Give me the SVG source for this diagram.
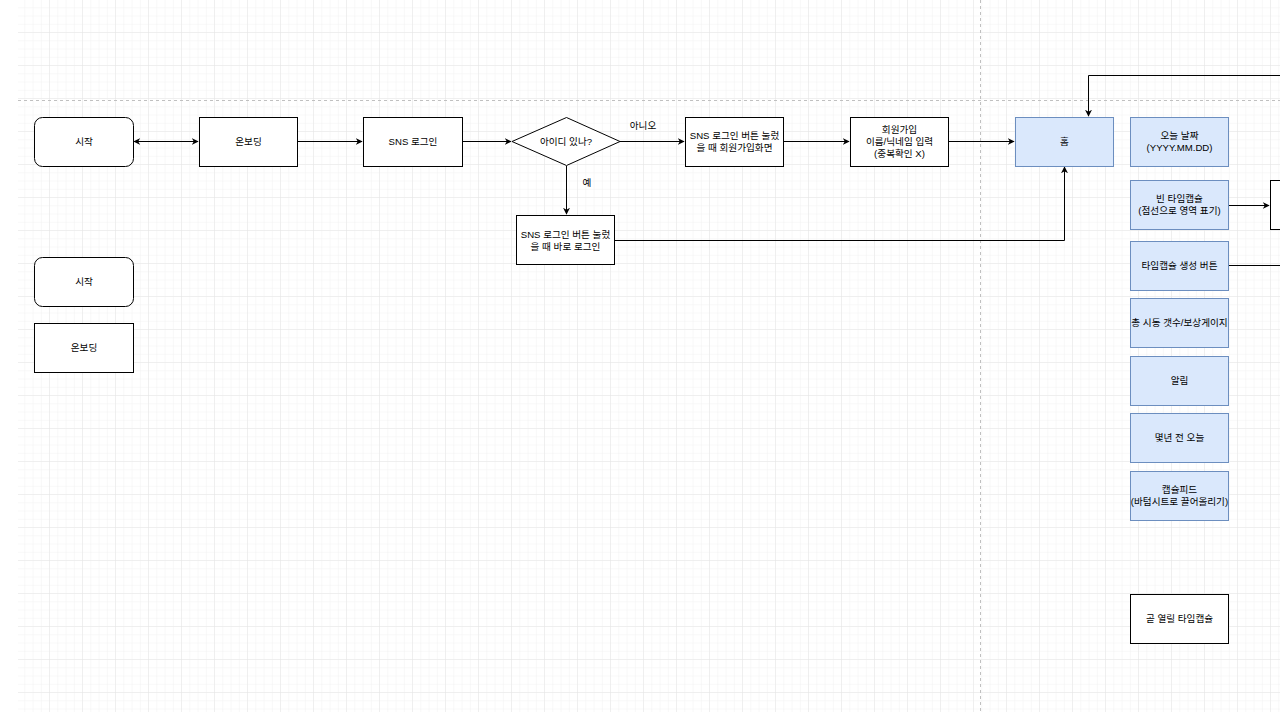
<svg xmlns="http://www.w3.org/2000/svg" width="1280" height="714" viewBox="0 0 1280 714">
<defs>
<pattern id="minor" x="17" y="0" width="8.25" height="8.25" patternUnits="userSpaceOnUse">
<path d="M8.25 0V8.25M0 8.25H8.25" fill="none" stroke="#f1f1f1" stroke-width="1"/>
</pattern>
<pattern id="major" x="17" y="0" width="33" height="33" patternUnits="userSpaceOnUse">
<path d="M33 0V33M0 33H33" fill="none" stroke="#e6e6e6" stroke-width="1"/>
</pattern>
<marker id="arr" viewBox="0 0 10 10" refX="9" refY="5" markerWidth="7" markerHeight="7" orient="auto-start-reverse" markerUnits="userSpaceOnUse">
<path d="M0 0L10 5L0 10L3 5Z" fill="#000"/>
</marker>
</defs>
<style>
.n{fill:#fff;stroke:#000;stroke-width:1}
.b{fill:#dae8fc;stroke:#6c8ebf;stroke-width:1}
.t{font-family:"Liberation Sans","Noto Sans CJK KR",sans-serif;font-size:9.6px;fill:#000;text-anchor:middle}
.c{fill:none;stroke:#000;stroke-width:1}
</style>
<rect width="1280" height="714" fill="#fff"/>
<rect x="18" y="0" width="1262" height="712" fill="url(#minor)"/>
<rect x="18" y="0" width="1262" height="712" fill="url(#major)"/>
<line x1="18" y1="100.5" x2="1280" y2="100.5" stroke="#c0c0c0" stroke-dasharray="3 3"/>
<line x1="980.5" y1="0" x2="980.5" y2="714" stroke="#c0c0c0" stroke-dasharray="3 3"/>

<g id="connectors">
<path class="c" d="M134 141.5H198" marker-start="url(#arr)" marker-end="url(#arr)"/>
<path class="c" d="M298 141.5H362" marker-end="url(#arr)"/>
<path class="c" d="M463 141.5H511" marker-end="url(#arr)"/>
<path class="c" d="M620 141.5H684" marker-end="url(#arr)"/>
<path class="c" d="M566.5 166V214" marker-end="url(#arr)"/>
<path class="c" d="M784 141.5H849" marker-end="url(#arr)"/>
<path class="c" d="M948 141.5H1014" marker-end="url(#arr)"/>
<path class="c" d="M615 240.5H1064.5V167" marker-end="url(#arr)"/>
<path class="c" d="M1280 75.5H1088.5V116" marker-end="url(#arr)"/>
<path class="c" d="M1229 205.5H1269" marker-end="url(#arr)"/>
<path class="c" d="M1229 265.5H1280"/>
<text class="t" x="643" y="129">아니오</text>
<text class="t" x="587" y="186">예</text>
</g>

<g id="start1"><rect class="n" x="34.5" y="117.5" width="99" height="49" rx="8"/><text class="t" x="84" y="145">시작</text></g>
<g id="onboard1"><rect class="n" x="199.5" y="117.5" width="98" height="49"/><text class="t" x="248.5" y="145">온보딩</text></g>
<g id="snslogin"><rect class="n" x="363.5" y="117.5" width="99" height="49"/><text class="t" x="413" y="145">SNS 로그인</text></g>
<g id="decision"><path class="n" d="M566.5 117.5L620 141.5L566.5 165.5L512 141.5Z"/><text class="t" x="566" y="145">아이디 있나?</text></g>
<g id="signupscreen"><rect class="n" x="685.5" y="117.5" width="98" height="49"/><text class="t" x="734.5" y="139">SNS 로그인 버튼 눌렀</text><text class="t" x="734.5" y="151">을 때 회원가입화면</text></g>
<g id="signup"><rect class="n" x="850.5" y="117.5" width="98" height="49"/><text class="t" x="899.5" y="133">회원가입</text><text class="t" x="899.5" y="145">이름/닉네임 입력</text><text class="t" x="899.5" y="157">(중복확인 X)</text></g>
<g id="home"><rect class="b" x="1015.5" y="117.5" width="98" height="49"/><text class="t" x="1064.5" y="145">홈</text></g>
<g id="directlogin"><rect class="n" x="516.5" y="215.5" width="98" height="49"/><text class="t" x="565.5" y="238">SNS 로그인 버튼 눌렀</text><text class="t" x="565.5" y="250">을 때 바로 로그인</text></g>
<g id="start2"><rect class="n" x="34.5" y="257.5" width="99" height="49" rx="8"/><text class="t" x="84" y="285">시작</text></g>
<g id="onboard2"><rect class="n" x="34.5" y="323.5" width="99" height="49"/><text class="t" x="84" y="351">온보딩</text></g>

<g id="today"><rect class="b" x="1130.5" y="117.5" width="98" height="49"/><text class="t" x="1179.5" y="139">오늘 날짜</text><text class="t" x="1179.5" y="151">(YYYY.MM.DD)</text></g>
<g id="emptycapsule"><rect class="b" x="1130.5" y="180.5" width="98" height="49"/><text class="t" x="1179.5" y="202">빈 타임캡슐</text><text class="t" x="1179.5" y="214">(점선으로 영역 표기)</text></g>
<g id="createbtn"><rect class="b" x="1130.5" y="241.5" width="98" height="49"/><text class="t" x="1179.5" y="269">타임캡슐 생성 버튼</text></g>
<g id="gauge"><rect class="b" x="1130.5" y="298.5" width="98" height="49"/><text class="t" x="1179.5" y="326">총 시동 갯수/보상게이지</text></g>
<g id="notice"><rect class="b" x="1130.5" y="356.5" width="98" height="49"/><text class="t" x="1179.5" y="384">알림</text></g>
<g id="yearsago"><rect class="b" x="1130.5" y="413.5" width="98" height="49"/><text class="t" x="1179.5" y="441">몇년 전 오늘</text></g>
<g id="feed"><rect class="b" x="1130.5" y="471.5" width="98" height="49"/><text class="t" x="1179.5" y="493">캡슐피드</text><text class="t" x="1179.5" y="505">(바텀시트로 끌어올리기)</text></g>
<g id="soon"><rect class="n" x="1130.5" y="594.5" width="98" height="49"/><text class="t" x="1179.5" y="622">곧 열릴 타임캡슐</text></g>
<g id="partial"><rect class="n" x="1270.5" y="180.5" width="40" height="49"/></g>
</svg>
